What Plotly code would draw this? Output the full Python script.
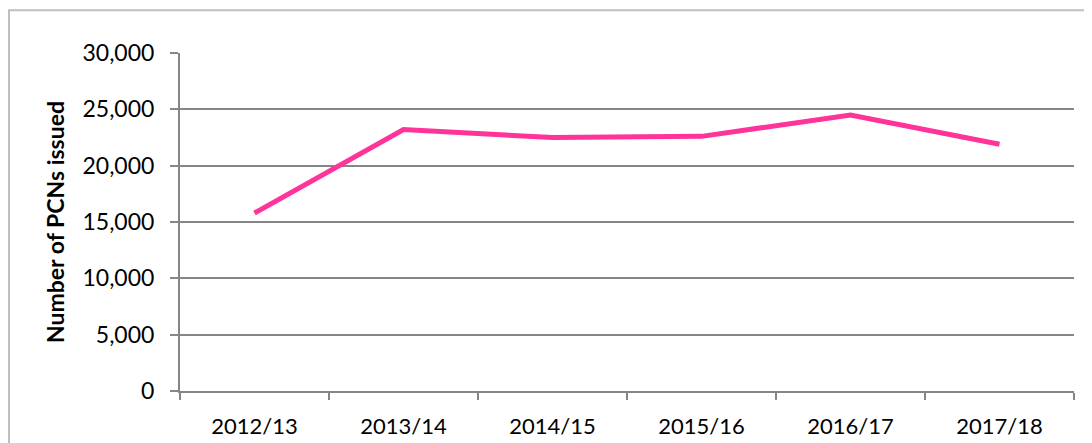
import plotly.graph_objects as go

categories = ["2012/13", "2013/14", "2014/15", "2015/16", "2016/17", "2017/18"]
pcns_issued = [15800, 23200, 22500, 22600, 24500, 21900]
y_tick_values = [0, 5000, 10000, 15000, 20000, 25000, 30000]
y_tick_labels = ["0", "5,000", "10,000", "15,000", "20,000", "25,000", "30,000"]

FONT = "Lato, Calibri, Carlito, 'Open Sans', sans-serif"
GRID = "#868686"

fig = go.Figure()
fig.add_trace(go.Scatter(
    x=categories, y=pcns_issued, mode="lines",
    line=dict(color="#FF3399", width=5),
    hoverinfo="x+y", showlegend=False,
))

fig.update_layout(
    width=1092, height=443,
    margin=dict(l=172, r=26, t=45, b=58),
    paper_bgcolor="white", plot_bgcolor="white",
    font=dict(family=FONT, size=23, color="black"),
)
fig.update_xaxes(
    type="category", tickson="boundaries",
    ticks="outside", ticklen=7, tickcolor=GRID, tickwidth=2,
    showline=True, linecolor=GRID, linewidth=2,
    showgrid=False, tickfont=dict(size=22),
    ticklabelstandoff=15,
    range=[-0.5, 5.5],
)
fig.update_yaxes(
    range=[0, 30000], tickvals=y_tick_values, ticktext=y_tick_labels,
    ticks="outside", ticklen=8, tickcolor=GRID, tickwidth=2,
    showline=True, linecolor=GRID, linewidth=2,
    showgrid=True, gridcolor=GRID, gridwidth=2,
    zeroline=False, tickfont=dict(size=23),
    ticklabelstandoff=11,
)
fig.add_annotation(
    text="<b>Number of PCNs issued</b>", textangle=-90,
    xref="paper", yref="paper", x=-0.1398, y=0.5,
    xanchor="center", yanchor="middle", showarrow=False,
    font=dict(size=23, family=FONT, color="black"),
)
# outer chart border
fig.add_shape(type="rect", xref="paper", yref="paper",
              x0=-0.1913, x1=1.1, y0=-0.3, y1=1.1265,
              line=dict(color="#BFBFBF", width=2), layer="below")

fig.write_html("out.html")
